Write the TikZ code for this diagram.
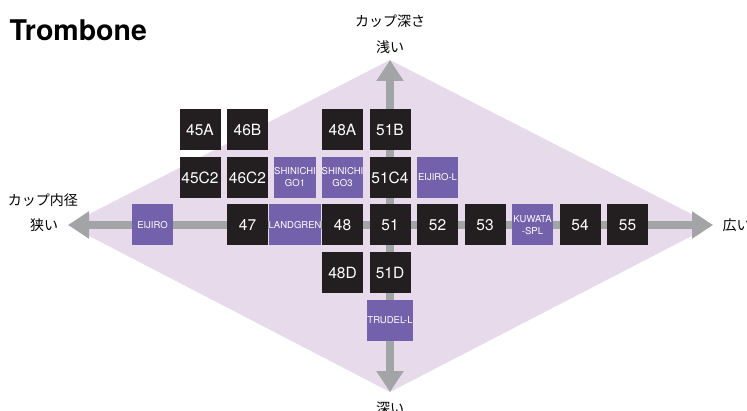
\documentclass[tikz,border=0pt]{standalone}
\usepackage{fontspec}
\setmainfont{TeX Gyre Heros}
\newfontfamily\jp{Noto Sans CJK JP}
\usetikzlibrary{arrows.meta, positioning}
\definecolor{boxblack}{HTML}{231F20}
\definecolor{artistpurple}{HTML}{7461AC}
\definecolor{chartlilac}{HTML}{E6DAEB}
\definecolor{axisgray}{HTML}{A3A4A6}
\tikzstyle{model} = [rectangle, minimum size=41pt, inner sep=0pt, text centered, fill=boxblack, text=white, font=\fontsize{15.5}{16}\selectfont]
\tikzstyle{artist} = [rectangle, minimum size=41pt, inner sep=0pt, align=center, fill=artistpurple, text=white, font=\fontsize{9.5}{12}\selectfont]
\tikzstyle{label} = [font=\jp\fontsize{14}{16}\selectfont, text=black]
\tikzstyle{axis} = [line width=8pt, draw=axisgray, {Triangle[length=21pt,width=26pt]}-{Triangle[length=21pt,width=26pt]}]

\begin{document}
\begin{tikzpicture}[x=1pt, y=1pt, node distance=47.5pt]
\useasboundingbox (0,0) rectangle (747,410);

\coordinate (shallow) at (390,350);
\coordinate (deep) at (390,18);
\coordinate (narrow) at (68,185);
\coordinate (wide) at (713,185);

\fill [chartlilac] (shallow) -- (wide) -- (deep) -- (narrow) -- cycle;
\draw [axis] (narrow) -- (wide);
\draw [axis] (deep) -- (shallow);

\node (title) [anchor=base west, font=\bfseries\fontsize{28.5}{30}\selectfont] at (6,369) {Trombone};

\node (depth) [label] at (390,389) {カップ深さ};
\node (shallowlbl) [label] at (390,363) {浅い};
\node (deeplbl) [label] at (390,2) {深い};
\node (bore) [label] at (43,210) {カップ内径};
\node (narrowlbl) [label] at (44,185) {狭い};
\node (widelbl) [label, anchor=west] at (719,185) {広い};

% middle row
\node (n51) [model] at (390,185) {51};
\node (n52) [model, right of=n51] {52};
\node (n53) [model, right of=n52] {53};
\node (kuwata) [artist, right of=n53] {KUWATA\\-SPL};
\node (n54) [model, right of=kuwata] {54};
\node (n55) [model, right of=n54] {55};
\node (n48) [model, left of=n51] {48};
\node (landgren) [artist, left of=n48] {LANDGREN};
\node (n47) [model, left of=landgren] {47};
\node (eijiro) [artist, left of=n47, xshift=-47.5pt] {EIJIRO};

% upper rows
\node (n51C4) [model, above of=n51] {51C4};
\node (eijiroL) [artist, right of=n51C4] {EIJIRO-L};
\node (go3) [artist, left of=n51C4] {SHINICHI\\GO3};
\node (go1) [artist, left of=go3] {SHINICHI\\GO1};
\node (n46C2) [model, left of=go1] {46C2};
\node (n45C2) [model, left of=n46C2] {45C2};
\node (n51B) [model, above of=n51C4] {51B};
\node (n48A) [model, left of=n51B] {48A};
\node (n46B) [model, above of=n46C2] {46B};
\node (n45A) [model, above of=n45C2] {45A};

% lower rows
\node (n51D) [model, below of=n51] {51D};
\node (n48D) [model, left of=n51D] {48D};
\node (trudel) [artist, below of=n51D] {TRUDEL-L};

\end{tikzpicture}
\end{document}
